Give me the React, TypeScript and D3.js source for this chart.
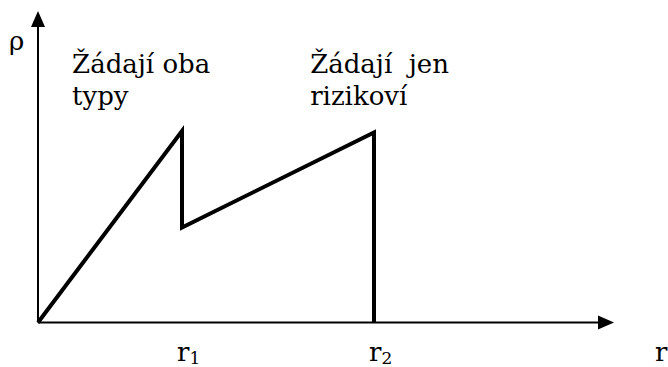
import React from "react";
import * as d3 from "d3";

const rValues = [0, 3, 3, 7, 7];
const rhoValues = [0, 6.15, 3.05, 6.1, 0];
const rTickLabels = [
  { value: 3, base: "r", sub: "1" },
  { value: 7, base: "r", sub: "2" },
];
const regionLabels = [
  { x: 0.71, lines: ["Žádají oba", "typy"] },
  { x: 5.67, lines: ["Žádají  jen", "rizikoví"] },
];

const W = 668;
const H = 367;

export default function App() {
  const x = d3.scaleLinear().domain([0, 12]).range([38, 614]);
  const y = d3.scaleLinear().domain([0, 10]).range([322.5, 11]);
  const line = d3
    .line<number>()
    .x((_, i) => x(rValues[i]))
    .y((d) => y(d));
  const x0 = x(0);
  const y0 = y(0);
  const ff = "DejaVu Serif";
  return (
    <svg
      width={W}
      height={H}
      style={{ position: "absolute", left: 0, top: 0, background: "#fff", fontFamily: ff }}
    >
      <line x1={x0} y1={y0} x2={x0} y2={y(10) + 14} stroke="#000" strokeWidth={2} />
      <path
        d={`M${x0},${y(10)} L${x0 - 7},${y(10) + 16} L${x0 + 7},${y(10) + 16} Z`}
        fill="#000"
      />
      <line x1={x0} y1={y0} x2={x(12) - 14} y2={y0} stroke="#000" strokeWidth={2} />
      <path
        d={`M${x(12)},${y0} L${x(12) - 16},${y0 - 7} L${x(12) - 16},${y0 + 7} Z`}
        fill="#000"
      />
      <path
        d={line(rhoValues) || ""}
        fill="none"
        stroke="#000"
        strokeWidth={4}
        strokeLinejoin="miter"
      />
      <g fontFamily={ff} fontSize={26}>
        <text x={9} y={50}>ρ</text>
        {regionLabels.map((r, i) => (
          <text key={i} x={x(r.x)} y={73} style={{ whiteSpace: "pre" }}>
            {r.lines.map((l, j) => (
              <tspan key={j} x={x(r.x)} dy={j === 0 ? 0 : 32}>
                {l}
              </tspan>
            ))}
          </text>
        ))}
        {rTickLabels.map((t, i) => (
          <text key={i} x={x(t.value) - 5} y={361}>
            {t.base}
            <tspan fontSize={17} dy={3}>
              {t.sub}
            </tspan>
          </text>
        ))}
        <text x={655} y={361}>r</text>
      </g>
    </svg>
  );
}
